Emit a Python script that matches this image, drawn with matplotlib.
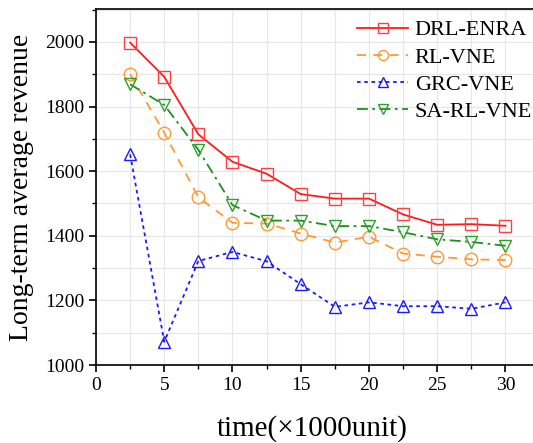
import matplotlib
matplotlib.use('Agg')
import matplotlib.pyplot as plt
from matplotlib.ticker import MultipleLocator

# data
time = [2.5, 5, 7.5, 10, 12.5, 15, 17.5, 20, 22.5, 25, 27.5, 30]
drl_enra = [1998, 1892, 1714, 1629, 1592, 1529, 1515, 1515, 1466, 1434, 1436, 1431]
rl_vne = [1900, 1719, 1519, 1440, 1438, 1407, 1379, 1397, 1345, 1335, 1327, 1325]
grc_vne = [1652, 1072, 1322, 1350, 1321, 1250, 1180, 1194, 1182, 1182, 1174, 1194]
sa_rl_vne = [1869, 1805, 1666, 1495, 1447, 1447, 1430, 1430, 1411, 1389, 1381, 1369]

plt.rcParams['font.family'] = ['Liberation Serif', 'DejaVu Serif']

fig = plt.figure(figsize=(5.33, 4.43), dpi=100)
# right spine sits off the canvas, like the reference
ax = fig.add_axes([96 / 533, 1 - 365 / 443, 460 / 533, 356 / 443])

ms = 9
ax.plot(time, drl_enra, color='#ff1a1a', ls='-', lw=1.3, marker='s', ms=ms,
        mfc='none', mec='#ff4040', label='DRL-ENRA')
ax.plot(time, rl_vne, color='#ff9933', ls=(0, (5, 4)), lw=1.3, marker='o', ms=ms,
        mfc='none', mec='#ff9933', label='RL-VNE')
ax.plot(time, grc_vne, color='#1a1aff', ls=(0, (2, 2)), lw=1.3, marker='^', ms=ms,
        mfc='none', mec='#1a1aff', label='GRC-VNE')
ax.plot(time, sa_rl_vne, color='#1f8f1f', ls=(0, (6, 2.5, 1.5, 2.5)), lw=1.3, marker='v', ms=ms,
        mfc='none', mec='#2ca02c', label='SA-RL-VNE')

ax.set_xlim(0, 33.7)
ax.set_ylim(1000, 2102)
ax.xaxis.set_major_locator(MultipleLocator(5))
ax.xaxis.set_minor_locator(MultipleLocator(2.5))
ax.yaxis.set_major_locator(MultipleLocator(200))
ax.yaxis.set_minor_locator(MultipleLocator(100))
ax.grid(which='both', color='#e6e6e6', lw=0.8)
ax.set_axisbelow(True)
ax.tick_params(which='major', direction='out', length=5, width=1.2, labelsize=14)
ax.tick_params(which='minor', direction='out', length=3, width=1.0)
for s in ax.spines.values():
    s.set_linewidth(1.2)

ax.set_xlabel('time(×1000unit)', fontsize=21)
ax.xaxis.set_label_coords(0.47, -0.14)
ax.set_ylabel('Long-term average revenue', fontsize=20, labelpad=8)

ax.legend(loc='upper right', bbox_to_anchor=(541 / 533, 1 - 11 / 443),
          bbox_transform=fig.transFigure, frameon=False, fontsize=16,
          handlelength=2.3, markerscale=0.8, borderaxespad=0, borderpad=0.4,
          labelspacing=0.3, handletextpad=0.3)

fig.savefig('out.png', dpi=100)
